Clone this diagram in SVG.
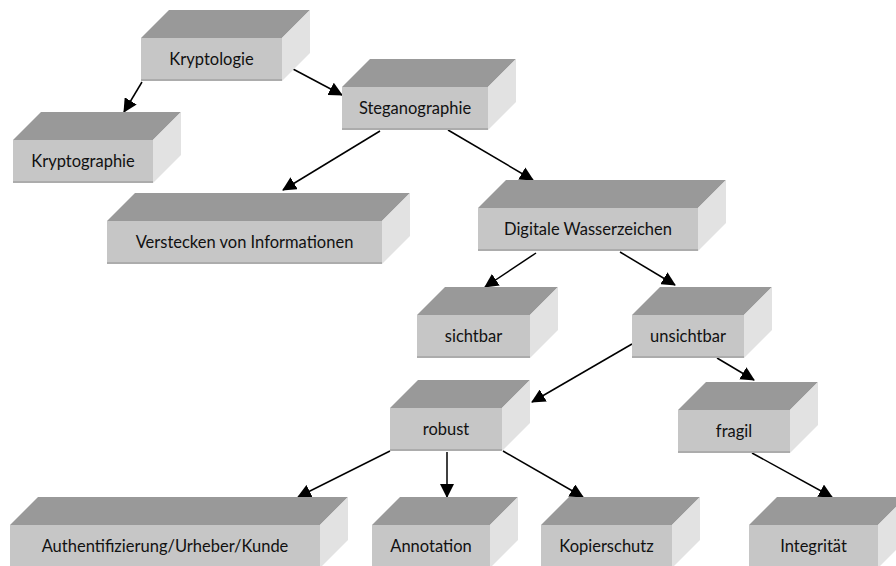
<svg xmlns="http://www.w3.org/2000/svg" width="896" height="566" viewBox="0 0 896 566">
<style>
.top{fill:#999999}
.side{fill:#e2e2e2}
.front{fill:#c6c6c6}
.fb{stroke:#acacac;stroke-width:2}
.lbl{font-family:Lato,"Open Sans","DejaVu Sans",sans-serif;font-size:16.5px;fill:#111;text-anchor:middle}
.conn line{stroke:#000;stroke-width:1.5;marker-end:url(#ah)}
</style>
<defs>
<marker id="ah" markerUnits="userSpaceOnUse" markerWidth="15" markerHeight="14" refX="13" refY="7" orient="auto">
<path d="M0,0 L14,7 L0,14 z" fill="#000"/>
</marker>
</defs>
<rect width="896" height="566" fill="#fff"/>
<g class="conn">
<line x1="142" y1="82" x2="124" y2="112"/>
<line x1="293" y1="69" x2="342" y2="95"/>
<line x1="380" y1="131" x2="283" y2="190"/>
<line x1="448" y1="130" x2="533" y2="180"/>
<line x1="536" y1="253" x2="485" y2="287"/>
<line x1="620" y1="252" x2="675" y2="285"/>
<line x1="632" y1="344" x2="532" y2="402"/>
<line x1="717" y1="358" x2="754" y2="380"/>
<line x1="390" y1="451" x2="298" y2="497"/>
<line x1="447" y1="452" x2="447" y2="497"/>
<line x1="503" y1="451" x2="583" y2="497"/>
<line x1="752" y1="453" x2="832" y2="497"/>
</g>
<g id="kryptologie">
<polygon class="top" points="141,38 169,10 310,10 282,38"/>
<polygon class="side" points="282,38 310,10 310,53 282,81"/>
<rect class="front" x="141" y="38" width="141" height="43"/>
<line class="fb" x1="141" y1="80" x2="282" y2="80"/>
<text class="lbl" x="211.5" y="65">Kryptologie</text>
</g>
<g id="kryptographie">
<polygon class="top" points="13,140 41,112 181,112 153,140"/>
<polygon class="side" points="153,140 181,112 181,155 153,183"/>
<rect class="front" x="13" y="140" width="140" height="43"/>
<line class="fb" x1="13" y1="182" x2="153" y2="182"/>
<text class="lbl" x="83" y="167">Kryptographie</text>
</g>
<g id="steganographie">
<polygon class="top" points="342,87 370,59 516,59 488,87"/>
<polygon class="side" points="488,87 516,59 516,102 488,130"/>
<rect class="front" x="342" y="87" width="146" height="43"/>
<line class="fb" x1="342" y1="129" x2="488" y2="129"/>
<text class="lbl" x="415" y="114">Steganographie</text>
</g>
<g id="verstecken">
<polygon class="top" points="107,221 135,193 410,193 382,221"/>
<polygon class="side" points="382,221 410,193 410,236 382,264"/>
<rect class="front" x="107" y="221" width="275" height="43"/>
<line class="fb" x1="107" y1="263" x2="382" y2="263"/>
<text class="lbl" x="244.5" y="248">Verstecken von Informationen</text>
</g>
<g id="digitale">
<polygon class="top" points="478,208 506,180 726,180 698,208"/>
<polygon class="side" points="698,208 726,180 726,223 698,251"/>
<rect class="front" x="478" y="208" width="220" height="43"/>
<line class="fb" x1="478" y1="250" x2="698" y2="250"/>
<text class="lbl" x="588" y="235">Digitale Wasserzeichen</text>
</g>
<g id="sichtbar">
<polygon class="top" points="417,315 445,287 558,287 530,315"/>
<polygon class="side" points="530,315 558,287 558,330 530,358"/>
<rect class="front" x="417" y="315" width="113" height="43"/>
<line class="fb" x1="417" y1="357" x2="530" y2="357"/>
<text class="lbl" x="473.5" y="342">sichtbar</text>
</g>
<g id="unsichtbar">
<polygon class="top" points="632,315 660,287 772,287 744,315"/>
<polygon class="side" points="744,315 772,287 772,330 744,358"/>
<rect class="front" x="632" y="315" width="112" height="43"/>
<line class="fb" x1="632" y1="357" x2="744" y2="357"/>
<text class="lbl" x="688" y="342">unsichtbar</text>
</g>
<g id="robust">
<polygon class="top" points="390,408 418,380 530,380 502,408"/>
<polygon class="side" points="502,408 530,380 530,423 502,451"/>
<rect class="front" x="390" y="408" width="112" height="43"/>
<line class="fb" x1="390" y1="450" x2="502" y2="450"/>
<text class="lbl" x="446" y="435">robust</text>
</g>
<g id="fragil">
<polygon class="top" points="678,410 706,382 818,382 790,410"/>
<polygon class="side" points="790,410 818,382 818,425 790,453"/>
<rect class="front" x="678" y="410" width="112" height="43"/>
<line class="fb" x1="678" y1="452" x2="790" y2="452"/>
<text class="lbl" x="734" y="437">fragil</text>
</g>
<g id="authentifizierung">
<polygon class="top" points="10,525 38,497 348,497 320,525"/>
<polygon class="side" points="320,525 348,497 348,540 320,568"/>
<rect class="front" x="10" y="525" width="310" height="43"/>
<text class="lbl" x="165" y="552">Authentifizierung/Urheber/Kunde</text>
</g>
<g id="annotation">
<polygon class="top" points="372,525 400,497 518,497 490,525"/>
<polygon class="side" points="490,525 518,497 518,540 490,568"/>
<rect class="front" x="372" y="525" width="118" height="43"/>
<text class="lbl" x="431" y="552">Annotation</text>
</g>
<g id="kopierschutz">
<polygon class="top" points="541,525 569,497 700,497 672,525"/>
<polygon class="side" points="672,525 700,497 700,540 672,568"/>
<rect class="front" x="541" y="525" width="131" height="43"/>
<text class="lbl" x="606.5" y="552">Kopierschutz</text>
</g>
<g id="integritaet">
<polygon class="top" points="749,525 777,497 906,497 878,525"/>
<polygon class="side" points="878,525 906,497 906,540 878,568"/>
<rect class="front" x="749" y="525" width="129" height="43"/>
<text class="lbl" x="813.5" y="552">Integrität</text>
</g>
</svg>
